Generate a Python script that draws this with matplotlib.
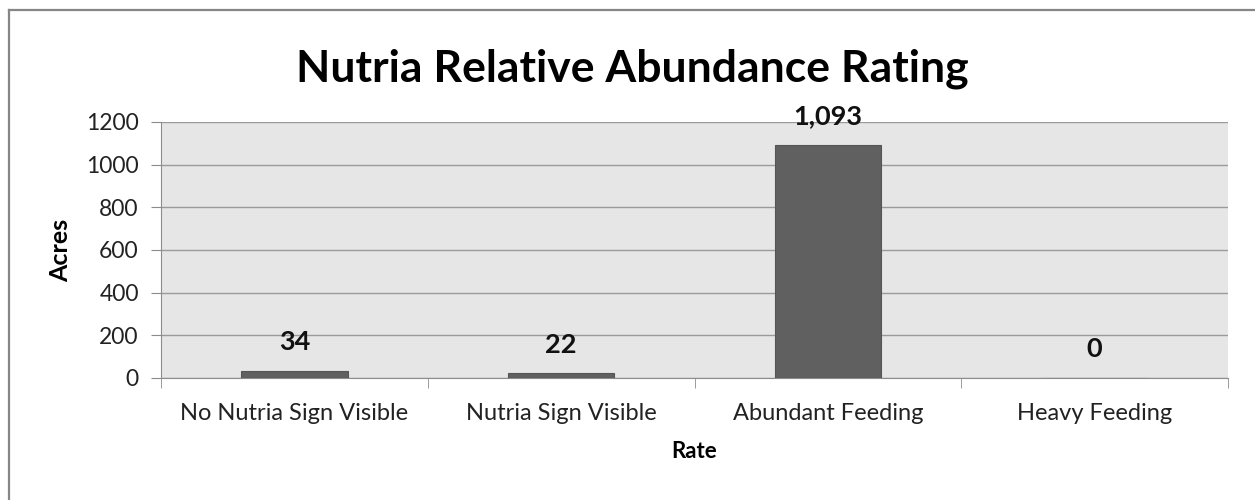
import matplotlib
matplotlib.use("Agg")
import matplotlib.pyplot as plt
from matplotlib.lines import Line2D

categories = ["No Nutria Sign Visible", "Nutria Sign Visible", "Abundant Feeding", "Heavy Feeding"]
acres = [34, 22, 1093, 0]
value_labels = ["34", "22", "1,093", "0"]
yticks = [0, 200, 400, 600, 800, 1000, 1200]

plt.rcParams['font.family'] = ['Lato', 'DejaVu Sans']

fig = plt.figure(figsize=(12.55, 5.0), dpi=100)
# partial outer frame (top and left edges only are visible)
fig.lines.append(Line2D([8.5 / 1255, 8.5 / 1255], [0, 1 - 9.5 / 500], transform=fig.transFigure,
                        color='#868686', linewidth=1.6))
fig.lines.append(Line2D([8.5 / 1255, 1], [1 - 10 / 500, 1 - 10 / 500], transform=fig.transFigure,
                        color='#868686', linewidth=1.6))

ax = fig.add_axes([0.1283, 0.244, 0.8502, 0.512])
ax.set_facecolor('#e6e6e6')
x = list(range(len(categories)))
ax.bar(x, acres, width=0.4, color='#606060', edgecolor='#555555', linewidth=0.8, zorder=3)
ax.set_xlim(-0.5, len(categories) - 0.5)
ax.set_ylim(0, 1200)
ax.set_yticks(yticks)
ax.set_yticklabels([str(t) for t in yticks], fontsize=16.5, color='#222222')
ax.grid(axis='y', color='#9a9a9a', linewidth=1.0, zorder=1)
ax.set_axisbelow(True)
for s in ['top', 'right']:
    ax.spines[s].set_visible(False)
ax.spines['left'].set_color('#8c8c8c')
ax.spines['bottom'].set_color('#8c8c8c')
ax.tick_params(axis='y', length=7, color='#8c8c8c', pad=9)
ax.set_xticks(x)
ax.set_xticklabels(categories, fontsize=17, color='#222222')
ax.tick_params(axis='x', length=0, pad=18)
ax.set_xticks([i + 0.5 for i in range(-1, len(categories))], minor=True)
ax.tick_params(axis='x', which='minor', length=7, color='#8c8c8c')
for xi, v, lab in zip(x, acres, value_labels):
    ax.annotate(lab, (xi, v), xytext=(0, 12), textcoords='offset points',
                ha='center', va='bottom', fontsize=19.5, fontweight='bold', color='#111111')
ax.set_ylabel("Acres", fontsize=18, fontweight='bold', labelpad=10)
ax.set_xlabel("Rate", fontsize=16, fontweight='bold', labelpad=12)
fig.text(0.504, 0.862, "Nutria Relative Abundance Rating", ha='center', va='center',
         fontsize=32, fontweight='bold', color='#000000')
fig.savefig("out.png", dpi=100)
